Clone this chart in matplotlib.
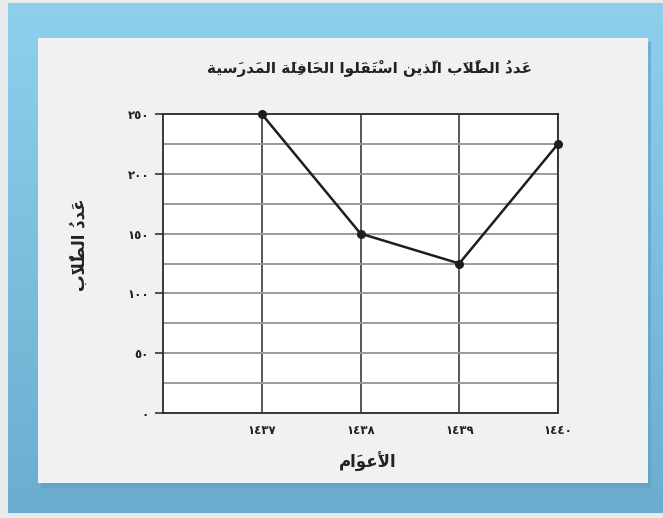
import numpy as np
import matplotlib.pyplot as plt
from matplotlib.patches import Rectangle

# data
years = [1437, 1438, 1439, 1440]
students = [250, 150, 125, 225]
y_ticks = [0, 50, 100, 150, 200, 250]
x_tick_labels = ["١٤٣٧", "١٤٣٨", "١٤٣٩", "١٤٤٠"]
y_tick_labels = ["٠", "٥٠", "١٠٠", "١٥٠", "٢٠٠", "٢٥٠"]

title_txt = "عَددُ الطُّلَاب الَّذين اسْتَقَلوا الحَافِلَة المَدرَسية"
xlabel_txt = "الأَعوَام"
ylabel_txt = "عَددُ الطُّلَاب"

# --- tiny arabic shaper (matplotlib does no arabic joining / bidi) ---
FORMS = {
    'ا': ('\uFE8D', '\uFE8E', None, None),
    'أ': ('\uFE83', '\uFE84', None, None),
    'ب': ('\uFE8F', '\uFE90', '\uFE91', '\uFE92'),
    'ة': ('\uFE93', '\uFE94', None, None),
    'ت': ('\uFE95', '\uFE96', '\uFE97', '\uFE98'),
    'ح': ('\uFEA1', '\uFEA2', '\uFEA3', '\uFEA4'),
    'د': ('\uFEA9', '\uFEAA', None, None),
    'ذ': ('\uFEAB', '\uFEAC', None, None),
    'ر': ('\uFEAD', '\uFEAE', None, None),
    'س': ('\uFEB1', '\uFEB2', '\uFEB3', '\uFEB4'),
    'ط': ('\uFEC1', '\uFEC2', '\uFEC3', '\uFEC4'),
    'ع': ('\uFEC9', '\uFECA', '\uFECB', '\uFECC'),
    'ف': ('\uFED1', '\uFED2', '\uFED3', '\uFED4'),
    'ق': ('\uFED5', '\uFED6', '\uFED7', '\uFED8'),
    'ل': ('\uFEDD', '\uFEDE', '\uFEDF', '\uFEE0'),
    'م': ('\uFEE1', '\uFEE2', '\uFEE3', '\uFEE4'),
    'ن': ('\uFEE5', '\uFEE6', '\uFEE7', '\uFEE8'),
    'و': ('\uFEED', '\uFEEE', None, None),
    'ي': ('\uFEF1', '\uFEF2', '\uFEF3', '\uFEF4'),
}
LAMALEF = {'ا': ('\uFEFB', '\uFEFC'), 'أ': ('\uFEF7', '\uFEF8')}
MARKS = set(chr(c) for c in range(0x064B, 0x0653))


def shape(text):
    chars = list(text)
    n = len(chars)

    def prev_letter(i):
        i -= 1
        while i >= 0 and chars[i] in MARKS:
            i -= 1
        return i if i >= 0 else None

    def next_letter(i):
        i += 1
        while i < n and chars[i] in MARKS:
            i += 1
        return i if i < n else None

    # each cluster: [glyph, marks]; marks are put in front of the glyph so
    # that, drawn left to right, they land on top of it
    clusters = []
    i = 0
    while i < n:
        c = chars[i]
        if c in MARKS:
            clusters[-1][1] += c
            i += 1
            continue
        if c not in FORMS:
            clusters.append([c, ''])
            i += 1
            continue
        p = prev_letter(i)
        joins_prev = p is not None and chars[p] in FORMS and FORMS[chars[p]][2] is not None
        nx = next_letter(i)
        if c == 'ل' and nx is not None and chars[nx] in LAMALEF:
            iso, fin = LAMALEF[chars[nx]]
            marks = ''.join(chars[i + 1:nx])
            clusters.append([fin if joins_prev else iso, marks])
            i = nx + 1
            continue
        iso, fin, ini, med = FORMS[c]
        joins_next = ini is not None and nx is not None and chars[nx] in FORMS
        if joins_prev and joins_next:
            g = med
        elif joins_prev:
            g = fin
        elif joins_next:
            g = ini
        else:
            g = iso
        clusters.append([g, ''])
        i += 1
    return ''.join(m + g for g, m in reversed(clusters))


fig = plt.figure(figsize=(6.63, 5.18), dpi=100)
fig.patch.set_facecolor('#e9eaec')

# blue frame + light panel
bg = fig.add_axes([0, 0, 1, 1], zorder=-2)
bg.set_xlim(0, 663)
bg.set_ylim(518, 0)
bg.axis('off')
grad = np.linspace(0, 1, 256).reshape(-1, 1)
top_c = np.array([0x8e, 0xd0, 0xec]) / 255
bot_c = np.array([0x6a, 0xad, 0xcf]) / 255
img = top_c * (1 - grad[..., None]) + bot_c * grad[..., None]
bg.imshow(img, extent=(8, 663, 513, 3), aspect='auto')
bg.add_patch(Rectangle((41, 42), 610, 446, color='#5f9fc2', alpha=0.6, lw=0))
bg.add_patch(Rectangle((38, 38), 610, 445, color='#f0f1f3', lw=0))

ax = fig.add_axes([163 / 663, 1 - 413 / 518, 395 / 663, 299 / 518])
ax.set_facecolor('white')
ax.plot(years, students, color='#1e1e1e', lw=1.8, marker='o', ms=5.5, zorder=5,
        clip_on=False)

ax.set_xlim(1436, 1440)
ax.set_ylim(0, 250)
ax.set_xticks(years)
ax.set_xticklabels(x_tick_labels, fontsize=8.5, fontweight='bold', color='#222')
ax.set_yticks(y_ticks)
ax.set_yticklabels(y_tick_labels, fontsize=8.5, fontweight='bold', color='#222')
ax.set_yticks(np.arange(25, 250, 50), minor=True)
ax.tick_params(axis='x', length=0, pad=8)
ax.tick_params(axis='y', which='major', length=6, width=1.2, color='#333', pad=4)
ax.tick_params(axis='y', which='minor', length=0)

ax.grid(axis='y', which='both', color='#9a9a9a', lw=1.4)
ax.grid(axis='x', color='#2a2a2a', lw=1.1)
ax.set_axisbelow(True)
for s in ax.spines.values():
    s.set_color('#2a2a2a')
    s.set_linewidth(1.3)

fig.text(370 / 663, 1 - 68 / 518, shape(title_txt), ha='center', va='center',
         fontsize=11, fontweight='bold', color='#222')
fig.text(368 / 663, 1 - 462 / 518, shape(xlabel_txt), ha='center', va='center',
         fontsize=12, fontweight='bold', color='#222')
fig.text(80 / 663, 1 - 245 / 518, shape(ylabel_txt), ha='center', va='center',
         rotation=90, fontsize=12, fontweight='bold', color='#222')

fig.savefig('out.png', dpi=100, facecolor=fig.get_facecolor())
